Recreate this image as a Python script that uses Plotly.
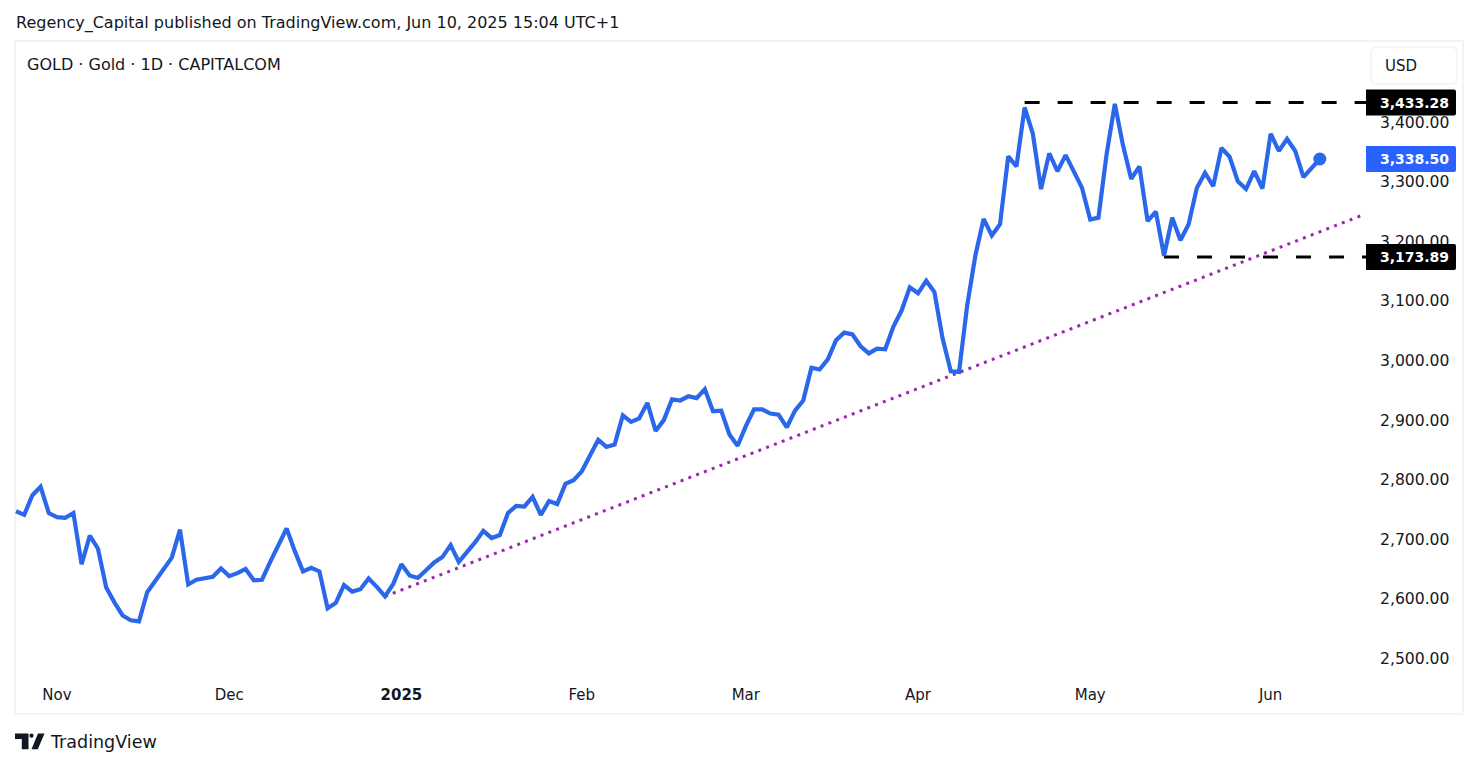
import plotly.graph_objects as go

W, H = 1479, 768
FONT = "DejaVu Sans"
INK = "#131722"
BLUE = "#2962ff"
LINE_BLUE = "#2b67eb"
PURPLE = "#9c27b0"
FRAME = "#f0f3fa"

price = [
    2747, 2741, 2774, 2788, 2744, 2737, 2736, 2744, 2658, 2706,
    2684, 2619, 2594, 2572, 2564, 2562, 2611, 2630, 2651, 2669,
    2716, 2624, 2632, 2635, 2637, 2651, 2638, 2643, 2650, 2631,
    2632, 2662, 2692, 2718, 2680, 2646, 2652, 2646, 2584, 2593,
    2623, 2612, 2616, 2634, 2620, 2604, 2625, 2658, 2639, 2635,
    2648, 2661, 2670, 2690, 2662, 2678, 2695, 2714, 2702, 2707,
    2744, 2756, 2755, 2771, 2741, 2764, 2759, 2793, 2799, 2814,
    2841, 2867, 2855, 2859, 2908, 2897, 2903, 2929, 2882, 2900,
    2935, 2933, 2940, 2937, 2952, 2915, 2916, 2876, 2857, 2890,
    2918, 2918, 2911, 2909, 2888, 2916, 2933, 2988, 2985, 3002,
    3034, 3047, 3044, 3024, 3012, 3020, 3019, 3057, 3084, 3123,
    3113, 3134, 3115, 3037, 2982, 2981, 3093, 3177, 3238, 3210,
    3229, 3343, 3326, 3425, 3381, 3288, 3348, 3318, 3345, 3318,
    3290, 3237, 3240, 3347, 3431, 3361, 3305, 3326, 3234, 3250,
    3176, 3240, 3202, 3229, 3290, 3315, 3293, 3357, 3342, 3301,
    3288, 3318, 3289, 3381, 3352, 3372, 3352, 3308, 3324, 3338.5,
]
bar_index = list(range(len(price)))

month_index = [5, 26, 47, 69, 89, 110, 131, 153]
month_label = ["Nov", "Dec", "<b>2025</b>", "Feb", "Mar", "Apr", "May", "Jun"]
price_ticks = [2500, 2600, 2700, 2800, 2900, 3000, 3100, 3200, 3300, 3400]
price_labels = ["2,500.00", "2,600.00", "2,700.00", "2,800.00", "2,900.00",
                "3,000.00", "3,100.00", "3,200.00", "3,300.00", "3,400.00"]

trend_index = [45, 164.15]
trend_value = [2604, 3244]
resistance_index = [123, 164.63]
resistance_value = [3433.28, 3433.28]
support_index = [140, 164.63]
support_value = [3173.89, 3173.89]
last_value = 3338.50

X_RANGE = [-0.122, 164.63]
Y_RANGE = [2463.6, 3535.0]
PANE_TOP, PANE_BOTTOM = 42, 680


def px_x(p):
    return p / W


def px_y(p):
    return 1 - p / H


def value_px(v):
    return PANE_TOP + (Y_RANGE[1] - v) / (Y_RANGE[1] - Y_RANGE[0]) * (PANE_BOTTOM - PANE_TOP)


fig = go.Figure()
fig.add_trace(go.Scatter(x=resistance_index, y=resistance_value, mode="lines",
                         line=dict(color="#000000", width=3, dash="15px,18px")))
fig.add_trace(go.Scatter(x=support_index, y=support_value, mode="lines",
                         line=dict(color="#000000", width=3, dash="15px,18px")))
fig.add_trace(go.Scatter(x=trend_index, y=trend_value, mode="lines",
                         line=dict(color=PURPLE, width=3, dash="3px,5.35px")))
fig.add_trace(go.Scatter(x=bar_index, y=price, mode="lines",
                         line=dict(color=LINE_BLUE, width=4.2, shape="linear")))
fig.add_trace(go.Scatter(x=[bar_index[-1]], y=[last_value], mode="markers",
                         marker=dict(color=LINE_BLUE, size=13)))


def price_tag(value, fill):
    c = value_px(value)
    l, r, t, b = px_x(1366), px_x(1456), px_y(c - 13), px_y(c + 13)
    rx, ry = px_x(1454), px_y(c - 11)
    ry2 = px_y(c + 11)
    return dict(type="path", xref="paper", yref="paper", layer="above", line=dict(width=0), fillcolor=fill,
                path=f"M{l},{t} L{rx},{t} Q{r},{t} {r},{ry} L{r},{ry2} Q{r},{b} {rx},{b} L{l},{b} Z")


def tag_text(value, label):
    return dict(x=1451 / W, xref="paper", xanchor="right", y=value, yref="y", yanchor="middle",
                text=f"<b>{label}</b>", showarrow=False,
                font=dict(family=FONT, size=14, color="#ffffff"))


LOGO_X, LOGO_Y = 15, 733

shapes = [
    dict(type="rect", xref="paper", yref="paper", x0=px_x(15), x1=px_x(1463), y0=px_y(714), y1=px_y(41),
         line=dict(color=FRAME, width=2), layer="below"),
    dict(type="path", xref="paper", yref="paper", layer="above", fillcolor="#ffffff",
         line=dict(color=FRAME, width=1.5),
         path=" ".join([
             f"M{px_x(1377)},{px_y(47)}", f"L{px_x(1451)},{px_y(47)}",
             f"Q{px_x(1457)},{px_y(47)} {px_x(1457)},{px_y(53)}",
             f"L{px_x(1457)},{px_y(78)}", f"Q{px_x(1457)},{px_y(84)} {px_x(1451)},{px_y(84)}",
             f"L{px_x(1377)},{px_y(84)}", f"Q{px_x(1371)},{px_y(84)} {px_x(1371)},{px_y(78)}",
             f"L{px_x(1371)},{px_y(53)}", f"Q{px_x(1371)},{px_y(47)} {px_x(1377)},{px_y(47)}", "Z"])),
    price_tag(resistance_value[0], "#000000"),
    price_tag(last_value, BLUE),
    price_tag(support_value[0], "#000000"),
    dict(type="path", xref="paper", yref="paper", layer="above", fillcolor=INK, line=dict(width=0),
         path=" ".join([
             f"M{px_x(LOGO_X)},{px_y(LOGO_Y + 6)}",
             f"L{px_x(LOGO_X + 6.8)},{px_y(LOGO_Y + 6)}",
             f"L{px_x(LOGO_X + 6.8)},{px_y(LOGO_Y + 16.2)}",
             f"L{px_x(LOGO_X + 13.5)},{px_y(LOGO_Y + 16.2)}",
             f"L{px_x(LOGO_X + 13.5)},{px_y(LOGO_Y + 0.4)}",
             f"L{px_x(LOGO_X)},{px_y(LOGO_Y + 0.4)}", "Z",
             f"M{px_x(LOGO_X + 16.5)},{px_y(LOGO_Y + 16.2)}",
             f"L{px_x(LOGO_X + 22.8)},{px_y(LOGO_Y + 16.2)}",
             f"L{px_x(LOGO_X + 29.5)},{px_y(LOGO_Y + 0.4)}",
             f"L{px_x(LOGO_X + 23)},{px_y(LOGO_Y + 0.4)}", "Z"])),
    dict(type="circle", xref="paper", yref="paper", layer="above", fillcolor=INK, line=dict(width=0),
         x0=px_x(LOGO_X + 14.4), x1=px_x(LOGO_X + 18.6), y0=px_y(LOGO_Y + 4.8), y1=px_y(LOGO_Y + 0.6)),
]

annotations = [
    dict(x=px_x(14), y=px_y(22.8), xref="paper", yref="paper", xanchor="left", yanchor="middle",
         text="Regency_Capital published on TradingView.com, Jun 10, 2025 15:04 UTC+1",
         showarrow=False, font=dict(family=FONT, size=16, color=INK)),
    dict(x=px_x(25), y=px_y(65), xref="paper", yref="paper", xanchor="left", yanchor="middle",
         text="GOLD · Gold · 1D · CAPITALCOM", showarrow=False,
         font=dict(family=FONT, size=16, color=INK)),
    dict(x=px_x(1383), y=px_y(66), xref="paper", yref="paper", xanchor="left", yanchor="middle",
         text="USD", showarrow=False, font=dict(family=FONT, size=15, color=INK)),
    dict(x=px_x(47.5), y=px_y(742), xref="paper", yref="paper", xanchor="left", yanchor="middle",
         text="TradingView", showarrow=False, font=dict(family=FONT, size=17.5, color=INK)),
    tag_text(resistance_value[0], "3,433.28"),
    tag_text(last_value, "3,338.50"),
    tag_text(support_value[0], "3,173.89"),
]

fig.update_layout(
    width=W, height=H, autosize=False,
    margin=dict(l=0, r=0, t=0, b=0, pad=0),
    paper_bgcolor="#ffffff", plot_bgcolor="#ffffff",
    showlegend=False, hovermode=False,
    shapes=shapes, annotations=annotations,
    font=dict(family=FONT, color=INK),
    xaxis=dict(domain=[px_x(15), px_x(1366)], range=X_RANGE, showgrid=False, zeroline=False,
               showline=False, ticks="", tickmode="array", tickvals=month_index, ticktext=month_label,
               tickfont=dict(family=FONT, size=15, color=INK), ticklabelstandoff=4, anchor="y"),
    yaxis=dict(domain=[px_y(PANE_BOTTOM), px_y(PANE_TOP)], range=Y_RANGE, side="right", showgrid=False, zeroline=False,
               showline=False, ticks="", tickmode="array", tickvals=price_ticks, ticktext=price_labels,
               tickfont=dict(family=FONT, size=15.6, color=INK), ticklabelstandoff=13, anchor="x"),
)

fig.write_html("out.html", post_script="document.body.style.margin='0';",
               config=dict(displayModeBar=False))
